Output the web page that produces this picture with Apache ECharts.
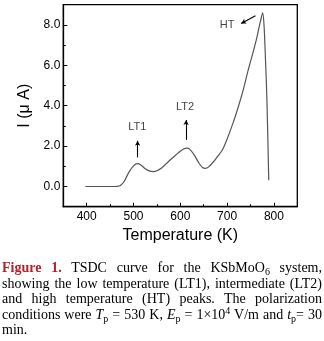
<!DOCTYPE html>
<html>
<head>
<meta charset="utf-8">
<script src="https://cdn.jsdelivr.net/npm/echarts@6/dist/echarts.min.js"></script>
<style>
html,body{margin:0;padding:0;background:#fff;}
#chart{position:absolute;left:0;top:0;width:324px;height:341px;}
#cap{position:absolute;left:2px;top:260px;width:320px;font-family:"Liberation Serif","Times New Roman",serif;font-size:14px;line-height:15.6px;color:#000;}
#cap div{text-align:justify;text-align-last:justify;white-space:nowrap;}
#cap div.last{text-align:left;text-align-last:left;}
#cap .fig{font-weight:bold;color:#b5202a;}
.sb{font-size:10px;position:relative;top:3px;line-height:0;}
.sp{font-size:10px;position:relative;top:-5px;line-height:0;}
</style>
</head>
<body>
<div id="chart"></div>
<div id="cap">
<div><span class="fig">Figure 1.</span> TSDC curve for the KSbMoO<span class="sb">6</span> system,</div>
<div>showing the low temperature (LT1), intermediate (LT2)</div>
<div>and high temperature (HT) peaks. The polarization</div>
<div>conditions were <i>T</i><span class="sb">p</span> = 530 K, <i>E</i><span class="sb">p</span> = 1×10<span class="sp">4</span> V/m and <i>t</i><span class="sb">p</span>= 30</div>
<div class="last">min.</div>
</div>
<script>
// Data (Temperature K, Current µA)
var temperature = [397,410,430,450,465,472,480,490,500,508,515,525,535,542,550,560,570,580,590,600,608,614,620,630,640,648,654,660,670,680,690,700,712,722,734,746,755,762,768,772,776,779,782,785,789];
var current     = [0,0,0,0,0.01,0.05,0.25,0.7,1.02,1.13,1.08,0.88,0.76,0.74,0.78,0.92,1.13,1.35,1.55,1.75,1.87,1.9,1.85,1.55,1.15,0.93,0.9,0.96,1.2,1.5,1.82,2.35,3.1,3.8,4.75,5.85,6.6,7.22,7.85,8.25,8.6,7.95,6.3,4.36,0.31];
var xMajorTicks = [400,500,600,700,800];
var xMinorTicks = [450,550,650,750];
var yMajorTicks = [0,2,4,6,8];
var yMinorTicks = [1,3,5,7];
var annLabels = ['LT1','LT2','HT'];
var annLabelX = [508,610,700];
var annLabelY = [2.95,3.95,8.0];
// arrows: tail -> head
var arrowTailX = [508.8,612.4,760.6];
var arrowTailY = [1.44,2.31,8.45];
var arrowHeadX = [508.8,612.4,730];
var arrowHeadY = [2.26,3.29,8.07];

var curve = temperature.map(function(t,i){return [t,current[i]];});
var labelPts = annLabels.map(function(n,i){return {name:n,value:[annLabelX[i],annLabelY[i]]};});
var arrows = annLabels.map(function(n,i){
  return [{coord:[arrowTailX[i],arrowTailY[i]],symbol:'none'},{coord:[arrowHeadX[i],arrowHeadY[i]],symbol:'arrow'}];
});

var chart = echarts.init(document.getElementById('chart'));
var font = '"Liberation Sans", Arial, sans-serif';
chart.setOption({
  animation:false,
  grid:{left:63.3,top:4.7,right:26.7,bottom:134.3,show:true,borderColor:'#000',borderWidth:1.3,backgroundColor:'transparent'},
  xAxis:[{
    type:'value',min:350,max:850,
    name:'Temperature (K)',nameLocation:'middle',nameGap:20,
    nameTextStyle:{fontFamily:font,fontSize:16,color:'#000'},
    axisLine:{show:true,onZero:false,lineStyle:{color:'#000',width:1.3}},
    axisTick:{show:true,inside:true,length:4,customValues:xMajorTicks,lineStyle:{color:'#000',width:1}},
    axisLabel:{show:true,margin:4,customValues:xMajorTicks,fontFamily:font,fontSize:12,color:'#000'},
    splitLine:{show:false}
  },{
    type:'value',min:350,max:850,position:'bottom',gridIndex:0,
    axisLine:{show:false,onZero:false},
    axisTick:{show:true,inside:true,length:2.5,customValues:xMinorTicks,lineStyle:{color:'#000',width:1}},
    axisLabel:{show:false},splitLine:{show:false}
  }],
  yAxis:[{
    type:'value',min:-1,max:9,
    name:'I (μ A)',nameLocation:'middle',nameGap:27,nameRotate:90,
    nameTextStyle:{fontFamily:font,fontSize:16,color:'#000'},
    axisLine:{show:true,onZero:false,lineStyle:{color:'#000',width:1.3}},
    axisTick:{show:true,inside:true,length:4,customValues:yMajorTicks,lineStyle:{color:'#000',width:1}},
    axisLabel:{show:true,margin:3,customValues:yMajorTicks,fontFamily:font,fontSize:12,color:'#000',
      formatter:function(v){return v.toFixed(1);}},
    splitLine:{show:false}
  },{
    type:'value',min:-1,max:9,position:'left',gridIndex:0,
    axisLine:{show:false,onZero:false},
    axisTick:{show:true,inside:true,length:2.5,customValues:yMinorTicks,lineStyle:{color:'#000',width:1}},
    axisLabel:{show:false},splitLine:{show:false}
  }],
  series:[{
    type:'line',data:curve,smooth:0.3,showSymbol:false,symbol:'none',
    lineStyle:{color:'#555',width:1.2},
    markLine:{silent:true,symbolSize:[4,5],label:{show:false},
      lineStyle:{color:'#000',width:1.1,type:'solid'},
      data:arrows}
  },{
    type:'scatter',data:labelPts,symbolSize:0,
    label:{show:true,position:'inside',formatter:function(p){return p.name;},fontFamily:font,fontSize:11,color:'#111'}
  }]
});
</script>
</body>
</html>
